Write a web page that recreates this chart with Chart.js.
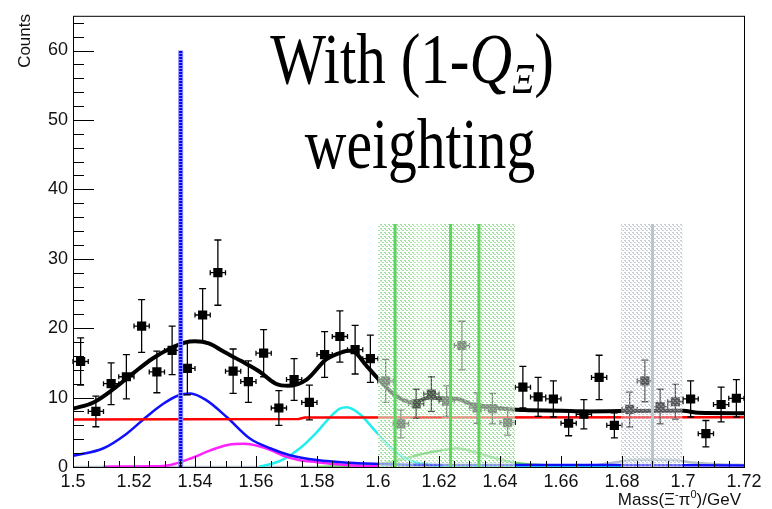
<!DOCTYPE html>
<html>
<head>
<meta charset="utf-8">
<script src="https://cdn.jsdelivr.net/npm/chart.js@4.4.0/dist/chart.umd.min.js"></script>
<style>
  html, body { margin: 0; padding: 0; background: #fff; }
</style>
</head>
<body>
<canvas id="c" width="772" height="509"></canvas>
<script>
// --- data ------------------------------------------------------------------
const binCenters = [
  1.5025, 1.5075, 1.5125, 1.5175, 1.5225, 1.5275, 1.5325, 1.5375, 1.5425, 1.5475,
  1.5525, 1.5575, 1.5625, 1.5675, 1.5725, 1.5775, 1.5825, 1.5875, 1.5925, 1.5975,
  1.6025, 1.6075, 1.6125, 1.6175, 1.6225, 1.6275, 1.6325, 1.6375, 1.6425, 1.6475,
  1.6525, 1.6575, 1.6625, 1.6675, 1.6725, 1.6775, 1.6825, 1.6875, 1.6925, 1.6975,
  1.7025, 1.7075, 1.7125, 1.7175,
];
const counts = [
  15.2, 8.0, 12.0, 13.0, 20.3, 13.7, 16.8, 14.2, 21.9, 28.0,
  13.8, 12.3, 16.4, 8.5, 12.6, 9.3, 16.2, 18.8, 16.9, 15.6,
  12.4, 6.2, 9.1, 10.5, 9.5, 17.5, 8.5, 8.4, 6.4, 11.5,
  10.1, 9.8, 6.3, 7.6, 12.9, 6.0, 8.3, 12.4, 8.7, 9.4,
  9.8, 4.8, 9.0, 9.9,
];
const countErrs = [
  3.4, 2.2, 3.0, 3.2, 3.8, 3.0, 3.5, 3.8, 3.8, 4.7,
  3.2, 3.0, 3.4, 2.5, 3.0, 2.5, 3.3, 3.7, 3.5, 3.4,
  3.1, 2.0, 2.1, 2.5, 2.2, 3.5, 2.2, 2.2, 1.8, 3.0,
  2.8, 2.6, 1.8, 2.1, 3.2, 1.8, 2.5, 3.0, 2.5, 2.5,
  2.6, 1.9, 2.5, 2.7,
];
const BIN_HALF = 0.0025;

const totalX = [1.500, 1.5067, 1.5132, 1.520, 1.526, 1.532, 1.5365, 1.540, 1.5445, 1.5495,
  1.555, 1.561, 1.5665, 1.5705, 1.5766, 1.583, 1.5886, 1.5905, 1.5925, 1.596,
  1.6007, 1.606, 1.6116, 1.617, 1.621, 1.626, 1.631, 1.637, 1.642, 1.648,
  1.66, 1.668, 1.68, 1.70, 1.705, 1.72];
const totalY = [8.4, 9.3, 11.2, 13.6, 15.6, 17.1, 17.9, 18.1, 17.8, 16.6,
  15.3, 13.8, 12.0, 11.7, 12.6, 15.5, 16.6, 16.75, 16.5, 14.7,
  12.4, 10.2, 9.3, 10.0, 9.9, 9.8, 9.0, 8.7, 8.35, 8.2,
  8.1, 8.0, 8.05, 8.1, 7.8, 7.75];

const bkgX = [1.500, 1.574, 1.576, 1.720];
const bkgY = [6.85, 6.92, 7.12, 7.15];

const blueX = [1.500, 1.510, 1.5176, 1.524, 1.5296, 1.5345, 1.5385, 1.5438, 1.5504, 1.558,
  1.5646, 1.5711, 1.580, 1.591, 1.602, 1.617, 1.640, 1.670, 1.720];
const blueY = [1.6, 2.7, 4.8, 7.2, 9.1, 10.3, 10.6, 9.6, 7.2, 4.1,
  2.7, 1.7, 1.0, 0.6, 0.4, 0.3, 0.3, 0.3, 0.2];

const magentaX = [1.510, 1.525, 1.532, 1.539, 1.545, 1.551, 1.556, 1.561, 1.565, 1.569,
  1.574, 1.580, 1.5865, 1.595, 1.600];
const magentaY = [0.05, 0.1, 0.3, 1.3, 2.4, 3.2, 3.35, 3.0, 2.4, 1.6,
  1.0, 0.7, 0.4, 0.15, 0.1];

const cyanX = [1.561, 1.5655, 1.569, 1.5744, 1.5799, 1.5843, 1.5875, 1.5898, 1.5941,
  1.5985, 1.6028, 1.6072, 1.6116, 1.617, 1.630, 1.680];
const cyanY = [0.05, 0.5, 1.1, 2.7, 5.0, 7.2, 8.4, 8.6, 7.6,
  5.5, 3.4, 1.7, 0.75, 0.3, 0.1, 0.05];

const greenX = [1.580, 1.590, 1.6017, 1.607, 1.6127, 1.618, 1.6225, 1.6258, 1.6312, 1.6367,
  1.6422, 1.6466, 1.655, 1.670];
const greenY = [0.0, 0.15, 0.5, 1.0, 1.7, 2.2, 2.5, 2.7, 2.2, 1.5,
  0.85, 0.5, 0.25, 0.15];

const grayX = [1.500, 1.660, 1.665, 1.672, 1.678, 1.683, 1.690, 1.697, 1.702, 1.708, 1.713, 1.720];
const grayY = [0.0, 0.0, 0.05, 0.3, 0.7, 1.0, 1.05, 1.0, 0.7, 0.5, 0.35, 0.3];

// vertical markers and shaded mass windows
const blueMarkX = 1.5353, blueMarkTop = 60;
const greenMarksX = [1.6056, 1.6238, 1.6331];
const grayMarkX = 1.690;
const bandTop = 35;
const greenBands = [[1.600, 1.645], [1.600, 1.6115], [1.621, 1.645]];
const grayBand = [1.6797, 1.6999];

const xTicks = [1.50, 1.52, 1.54, 1.56, 1.58, 1.60, 1.62, 1.64, 1.66, 1.68, 1.70, 1.72];
const yTicks = [0, 10, 20, 30, 40, 50, 60];

// --- helpers ---------------------------------------------------------------
const zip = (xs, ys) => xs.map((x, i) => ({ x, y: ys[i] }));

function dots(fg, bg) {
  const c = document.createElement("canvas");
  c.width = 4; c.height = 4;
  const g = c.getContext("2d");
  g.fillStyle = bg; g.fillRect(0, 0, 4, 4);
  g.fillStyle = fg;
  g.fillRect(0, 0, 2, 1); g.fillRect(2, 2, 2, 1); g.fillRect(1, 1, 1, 1);
  return g.createPattern(c, "repeat");
}

const curve = (label, xs, ys, color, width, order) => ({
  label, data: zip(xs, ys), borderColor: color, borderWidth: width,
  pointRadius: 0, fill: false, tension: 0.4, cubicInterpolationMode: "monotone", order,
});
const vline = (label, x, top, color, width, order, dash) => ({
  label, data: [{ x, y: 0 }, { x, y: top }], borderColor: color, borderWidth: width,
  pointRadius: 0, fill: false, borderDash: dash || [], order, borderCapStyle: "butt",
});
const band = (label, range, fg, bg, order) => ({
  label, data: [{ x: range[0], y: bandTop }, { x: range[1], y: bandTop }],
  borderWidth: 0, borderColor: "rgba(0,0,0,0)", pointRadius: 0,
  fill: "origin", backgroundColor: dots(fg, bg), order,
});

const FONT = '"Liberation Sans", Arial, sans-serif';
const SERIF = '"Liberation Serif", "Times New Roman", serif';

// --- drawing extras: error bars, ROOT-style ticks, texts --------------------
const rootStyle = {
  id: "rootStyle",
  afterDatasetDraw(chart, args) {
    if (chart.data.datasets[args.index].label !== "data") return;
    const { ctx, scales: { x: xs, y: ys } } = chart;
    ctx.save();
    ctx.strokeStyle = "#000";
    ctx.lineWidth = 1.3;
    ctx.beginPath();
    binCenters.forEach((b, i) => {
      const px = xs.getPixelForValue(b);
      const py = ys.getPixelForValue(counts[i]);
      const top = ys.getPixelForValue(counts[i] + countErrs[i]);
      const bot = ys.getPixelForValue(counts[i] - countErrs[i]);
      const l = xs.getPixelForValue(b - BIN_HALF);
      const r = xs.getPixelForValue(b + BIN_HALF);
      ctx.moveTo(px, top); ctx.lineTo(px, bot);
      ctx.moveTo(px - 3.5, top); ctx.lineTo(px + 3.5, top);
      ctx.moveTo(px - 3.5, bot); ctx.lineTo(px + 3.5, bot);
      ctx.moveTo(l, py); ctx.lineTo(r, py);
      ctx.moveTo(l, py - 2.5); ctx.lineTo(l, py + 2.5);
      ctx.moveTo(r, py - 2.5); ctx.lineTo(r, py + 2.5);
    });
    ctx.stroke();
    ctx.restore();
  },
  afterDraw(chart) {
    const { ctx, chartArea: a, scales: { x: xs, y: ys } } = chart;
    ctx.save();
    // frame
    ctx.strokeStyle = "#000";
    ctx.lineWidth = 1;
    ctx.strokeRect(a.left + 0.5, a.top + 0.5, a.right - a.left, a.bottom - a.top);
    // x ticks every 0.005, major every 0.02
    ctx.beginPath();
    for (let k = 0; k <= 44; k++) {
      const v = 1.5 + k * 0.005;
      const px = Math.round(xs.getPixelForValue(v)) + 0.5;
      const len = k % 4 === 0 ? 11 : 6;
      ctx.moveTo(px, a.bottom); ctx.lineTo(px, a.bottom - len);
    }
    // y ticks every 2, major every 10
    for (let v = 0; v <= 64; v += 2) {
      const py = Math.round(ys.getPixelForValue(v)) + 0.5;
      const len = v % 10 === 0 ? 21 : 11;
      ctx.moveTo(a.left, py); ctx.lineTo(a.left + len, py);
    }
    ctx.stroke();

    // axis titles
    ctx.fillStyle = "#111";
    ctx.font = "17px " + FONT;
    ctx.save();
    ctx.translate(25, 14);
    ctx.rotate(-Math.PI / 2);
    ctx.textAlign = "right";
    ctx.textBaseline = "middle";
    ctx.fillText("Counts", 0, 0);
    ctx.restore();

    const parts = [
      ["Mass(\u039E", 17, 0], ["-", 11, -7], ["\u03C0", 17, 0], ["0", 11, -7], [")/GeV", 17, 0],
    ];
    let w = 0;
    parts.forEach(p => { ctx.font = p[1] + "px " + FONT; w += ctx.measureText(p[0]).width; });
    let cx = 741 - w;
    ctx.textAlign = "left";
    ctx.textBaseline = "alphabetic";
    parts.forEach(p => {
      ctx.font = p[1] + "px " + FONT;
      ctx.fillText(p[0], cx, 505 + p[2]);
      cx += ctx.measureText(p[0]).width;
    });

    // big label
    ctx.fillStyle = "#000";
    const line1 = [
      ["With (1-", "72px " + SERIF, 0], ["Q", "italic 72px " + SERIF, 0],
      ["\u039E", "italic 42px " + SERIF, 10], [")", "72px " + SERIF, 0],
    ];
    ctx.save();
    ctx.translate(412, 83);
    ctx.scale(0.82, 1);
    w = 0;
    line1.forEach(p => { ctx.font = p[1]; w += ctx.measureText(p[0]).width; });
    cx = -w / 2;
    line1.forEach(p => {
      ctx.font = p[1];
      ctx.fillText(p[0], cx, p[2]);
      cx += ctx.measureText(p[0]).width;
    });
    ctx.restore();
    ctx.save();
    ctx.translate(420, 168);
    ctx.scale(0.8, 1);
    ctx.font = "72px " + SERIF;
    ctx.textAlign = "center";
    ctx.fillText("weighting", 0, 0);
    ctx.restore();
    ctx.restore();
  },
};

// --- chart -----------------------------------------------------------------
const GREEN_DOT = "rgba(110,215,110,0.5)", GREEN_BG = "rgba(255,255,255,0.32)";

new Chart(document.getElementById("c"), {
  type: "line",
  data: {
    datasets: [
      curve("gray", grayX, grayY, "#b4c0cc", 2.5, 90),
      curve("green", greenX, greenY, "#66cc66", 2.5, 89),
      curve("cyan", cyanX, cyanY, "#22eeee", 2.5, 88),
      curve("magenta", magentaX, magentaY, "#ff22ff", 2.5, 87),
      curve("blue", blueX, blueY, "#1010ff", 2.5, 86),
      { label: "bkg", data: zip(bkgX, bkgY), borderColor: "#ff0000", borderWidth: 2.5,
        pointRadius: 0, fill: false, tension: 0, order: 80 },
      curve("total", totalX, totalY, "#000000", 4, 70),
      { label: "data", type: "scatter", data: zip(binCenters, counts), pointStyle: "rect",
        pointRadius: 6.5, backgroundColor: "#000", borderColor: "#000", borderWidth: 0,
        showLine: false, order: 60 },
      ...greenBands.map((r, i) => band("gband" + i, r, GREEN_DOT, GREEN_BG, 50 - i)),
      band("grayband", grayBand, "rgba(160,172,188,0.6)", "rgba(255,255,255,0.35)", 45),
      ...greenMarksX.map((x, i) => vline("gmark" + i, x, bandTop, "#5ed35e", 3, 30 - i)),
      vline("graymark", grayMarkX, bandTop, "#b8c4d0", 3, 25),
      vline("bluemarkbg", blueMarkX, blueMarkTop, "#8a8aff", 5, 21),
      vline("bluemark", blueMarkX, blueMarkTop, "#0000ee", 3, 20, [2, 1]),
    ],
  },
  options: {
    responsive: false,
    animation: false,
    layout: { padding: { top: 10, right: 28, left: 0, bottom: 0 } },
    plugins: { legend: { display: false }, tooltip: { enabled: false } },
    scales: {
      x: {
        type: "linear", min: 1.5, max: 1.72,
        grid: { display: false, drawTicks: false }, border: { display: false },
        afterBuildTicks: (s) => { s.ticks = xTicks.map(v => ({ value: v })); },
        afterFit: (s) => { s.height = 42; },
        ticks: {
          autoSkip: false, maxRotation: 0, padding: 4, color: "#111",
          font: { family: FONT, size: 18 },
          callback: (v) => String(+(+v).toFixed(2)),
        },
      },
      y: {
        type: "linear", min: 0, max: 65,
        grid: { display: false, drawTicks: false }, border: { display: false },
        afterBuildTicks: (s) => { s.ticks = yTicks.map(v => ({ value: v })); },
        afterFit: (s) => { s.width = 73; },
        ticks: { padding: 5, color: "#111", font: { family: FONT, size: 18 } },
      },
    },
  },
  plugins: [rootStyle],
});
</script>
</body>
</html>
